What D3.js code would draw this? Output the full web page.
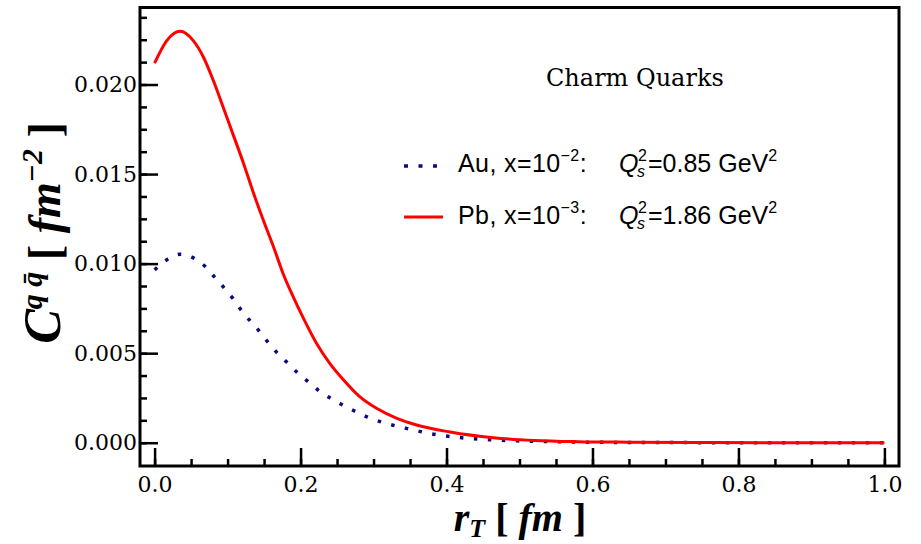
<!DOCTYPE html>
<html>
<head>
    <meta charset="UTF-8">
    <title>Charm Quarks</title>
    <script src="https://d3js.org/d3.v7.min.js"></script>
    <style>
        body { margin: 0; background: #fff; }
    </style>
</head>
<body>
    <div id="my_dataviz"></div>
    <script>

        // data
        var auR = [0.0, 0.018, 0.035, 0.053, 0.069, 0.082, 0.095, 0.107, 0.118, 0.130, 0.143, 0.155, 0.167, 0.181, 0.195, 0.210, 0.224, 0.240, 0.257, 0.275, 0.292, 0.309, 0.345, 0.386, 0.445, 0.50, 0.56, 0.62, 0.70, 0.80, 0.90, 1.0]
        var auC = [0.00965, 0.01025, 0.01052, 0.01032, 0.00985, 0.00926, 0.00866, 0.00807, 0.00744, 0.00684, 0.00625, 0.00563, 0.00506, 0.0045, 0.00394, 0.00342, 0.00294, 0.00251, 0.00212, 0.00175, 0.00143, 0.00118, 0.0008, 0.00045, 0.0002, 0.0001, 0.00005, 0.00002, 0.00001, 0.0, 0.0, 0.0]

        var pbR = [0.0, 0.0167, 0.035, 0.053, 0.067, 0.0805, 0.094, 0.108, 0.122, 0.135, 0.149, 0.163, 0.176, 0.190, 0.204, 0.222, 0.240, 0.259, 0.281, 0.304, 0.332, 0.359, 0.405, 0.464, 0.52, 0.58, 0.65, 0.75, 0.85, 1.0]
        var pbC = [0.02119, 0.02245, 0.02297, 0.02245, 0.02152, 0.02022, 0.01873, 0.01716, 0.01558, 0.014, 0.01242, 0.01093, 0.00945, 0.00814, 0.00694, 0.00554, 0.00443, 0.0035, 0.00257, 0.00192, 0.00136, 0.00099, 0.0006, 0.00028, 0.00013, 0.00006, 0.00003, 0.00001, 0.0, 0.0]

        var xTicks = [0.0, 0.2, 0.4, 0.6, 0.8, 1.0]
        var yTicks = [0.000, 0.005, 0.010, 0.015, 0.020]

        var width = 921, height = 544
        var plot = { left: 140, right: 899, top: 7.5, bottom: 466 }

        var svg = d3.select("#my_dataviz")
            .append("svg")
            .attr("width", width)
            .attr("height", height)

        var x = d3.scaleLinear().domain([-0.02, 1.02]).range([plot.left, plot.right])
        var y = d3.scaleLinear().domain([-0.0013, 0.0243]).range([plot.bottom, plot.top])

        // minor ticks
        svg.append("g")
            .attr("transform", "translate(0," + plot.bottom + ")")
            .call(d3.axisBottom(x).tickValues(d3.range(0, 1.001, 0.05)).tickSize(-7).tickFormat(""))
        svg.append("g")
            .attr("transform", "translate(" + plot.left + ",0)")
            .call(d3.axisLeft(y).tickValues(d3.range(0, 0.0241, 0.00125)).tickSize(-7).tickFormat(""))

        // major ticks + labels
        var xAxis = svg.append("g")
            .attr("transform", "translate(0," + plot.bottom + ")")
            .call(d3.axisBottom(x).tickValues(xTicks).tickSize(-18).tickFormat(d3.format(".1f")))
        xAxis.selectAll("text").attr("y", 26).attr("dy", 0)

        var yAxis = svg.append("g")
            .attr("transform", "translate(" + plot.left + ",0)")
            .call(d3.axisLeft(y).tickValues(yTicks).tickSize(-18).tickPadding(3).tickFormat(d3.format(".3f")))

        svg.selectAll(".domain").remove()
        svg.selectAll(".tick line").attr("stroke", "#000").attr("stroke-width", 2.5)
        svg.selectAll(".tick text")
            .attr("fill", "#000")
            .style("font-family", "DejaVu Serif")
            .style("font-size", "22px")

        // frame
        svg.append("rect")
            .attr("x", plot.left)
            .attr("y", plot.top)
            .attr("width", plot.right - plot.left)
            .attr("height", plot.bottom - plot.top)
            .attr("fill", "none")
            .attr("stroke", "#000")
            .attr("stroke-width", 3)

        // curves
        var line = d3.line()
            .x(function (d) { return x(d[0]) })
            .y(function (d) { return y(d[1]) })
            .curve(d3.curveMonotoneX)

        svg.append("path")
            .datum(d3.zip(auR, auC))
            .attr("d", line)
            .attr("fill", "none")
            .attr("stroke", "#0b0b80")
            .attr("stroke-width", 3.5)
            .attr("stroke-dasharray", "3.5,10.5")

        svg.append("path")
            .datum(d3.zip(pbR, pbC))
            .attr("d", line)
            .attr("fill", "none")
            .attr("stroke", "#ff0000")
            .attr("stroke-width", 3)

        // title
        svg.append("text")
            .attr("x", 546).attr("y", 86)
            .style("font-family", "DejaVu Serif")
            .style("font-size", "24px")
            .text("Charm Quarks")

        // legend
        svg.append("line")
            .attr("x1", 404).attr("x2", 440).attr("y1", 166).attr("y2", 166)
            .attr("stroke", "#0b0b80").attr("stroke-width", 3.5)
            .attr("stroke-dasharray", "4,10.5")
        svg.append("line")
            .attr("x1", 404).attr("x2", 443).attr("y1", 217).attr("y2", 217)
            .attr("stroke", "#ff0000").attr("stroke-width", 3)

        var legend = [
            { nuc: "Au, x=10", exp: "\u22122", qs: "=0.85 GeV", y: 172 },
            { nuc: "Pb, x=10", exp: "\u22123", qs: "=1.86 GeV", y: 224 }
        ]
        legend.forEach(function (d) {
            var t = svg.append("text")
                .attr("x", 458).attr("y", d.y)
                .style("font-family", "Liberation Sans")
                .style("font-size", "25px")
                .style("letter-spacing", "0.4px")
            t.append("tspan").text(d.nuc)
            t.append("tspan").attr("dy", -11).style("font-size", "16px").text(d.exp)
            t.append("tspan").attr("dy", 11).text(":")

            // Q_s^2 built from separate pieces so the stacked indices sit right
            svg.append("text")
                .attr("x", 619).attr("y", d.y)
                .style("font-family", "Liberation Sans")
                .style("font-size", "25px")
                .style("font-style", "italic")
                .text("Q")
            svg.append("text")
                .attr("x", 638).attr("y", d.y - 11)
                .style("font-family", "Liberation Sans")
                .style("font-size", "16px")
                .text("2")
            svg.append("text")
                .attr("x", 637).attr("y", d.y + 5)
                .style("font-family", "Liberation Sans")
                .style("font-size", "16px")
                .style("font-style", "italic")
                .text("s")
            var q = svg.append("text")
                .attr("x", 648).attr("y", d.y)
                .style("font-family", "Liberation Sans")
                .style("font-size", "25px")
            q.append("tspan").text(d.qs)
            q.append("tspan").attr("dy", -11).style("font-size", "16px").text("2")
        })

        // axis titles
        var xl = svg.append("text")
            .attr("x", 520).attr("y", 531)
            .attr("text-anchor", "middle")
            .style("font-family", "Liberation Serif")
            .style("font-weight", "bold")
            .style("font-size", "40px")
        xl.append("tspan").style("font-style", "italic").text("r")
        xl.append("tspan").attr("dy", 6).style("font-style", "italic").style("font-size", "26px").text("T")
        xl.append("tspan").attr("dy", -6).text(" [ ")
        xl.append("tspan").style("font-style", "italic").text("fm")
        xl.append("tspan").text(" ]")

        var yl = svg.append("text")
            .attr("transform", "translate(60,233) rotate(-90)")
            .attr("text-anchor", "middle")
            .style("font-family", "Liberation Serif")
            .style("font-weight", "bold")
            .style("font-size", "46px")
        yl.append("tspan").style("font-style", "italic").style("font-size", "52px").text("C")
        yl.append("tspan").attr("dy", -18).style("font-style", "italic").style("font-size", "30px").text("q q\u0304")
        yl.append("tspan").attr("dy", 18).text(" [ ")
        yl.append("tspan").style("font-style", "italic").text("fm")
        yl.append("tspan").attr("dy", -18).style("font-style", "italic").style("font-size", "30px").text("\u22122")
        yl.append("tspan").attr("dy", 18).text(" ]")

    </script>
</body>
</html>
